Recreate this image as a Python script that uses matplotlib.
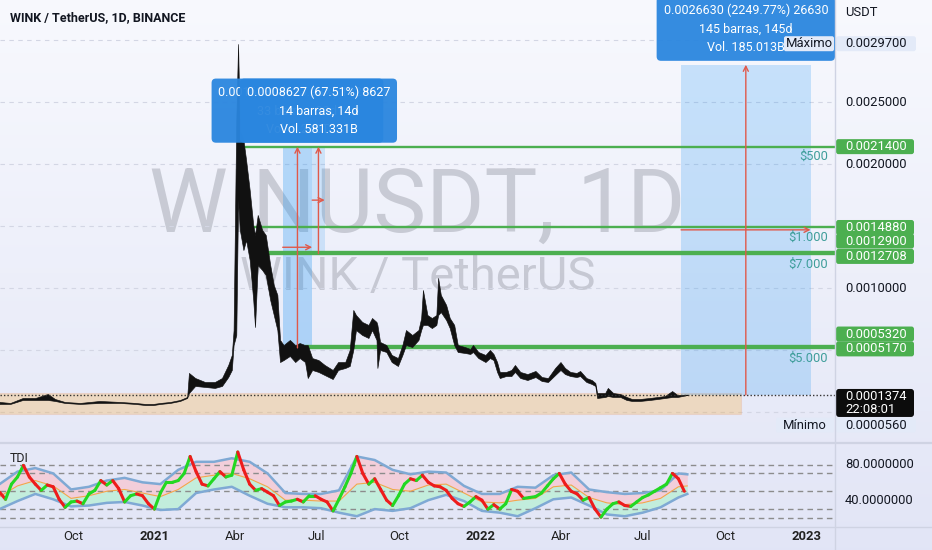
import numpy as np
import pandas as pd
import matplotlib
matplotlib.use("Agg")
import matplotlib.pyplot as plt
import matplotlib.dates as mdates
from matplotlib.collections import LineCollection
from matplotlib.patches import Rectangle, FancyArrowPatch, FancyBboxPatch

plt.rcParams['font.family'] = ['Roboto', 'DejaVu Sans']

# WINUSDT 1D: daily high / low envelope in micro-USDT (1e-6)
price_dates = [
    "2020-07-11", "2020-07-23", "2020-08-06", "2020-08-20", "2020-09-03", "2020-09-11",
    "2020-09-22", "2020-10-09", "2020-10-31", "2020-11-23", "2020-12-10", "2020-12-21",
    "2020-12-30", "2021-01-07", "2021-01-18", "2021-01-29", "2021-02-06", "2021-02-08",
    "2021-02-15", "2021-02-26", "2021-03-09", "2021-03-17", "2021-03-24", "2021-03-28",
    "2021-03-30", "2021-04-02", "2021-04-04", "2021-04-06", "2021-04-10", "2021-04-13",
    "2021-04-17", "2021-04-21", "2021-04-23", "2021-04-26", "2021-05-01", "2021-05-05",
    "2021-05-10", "2021-05-14", "2021-05-18", "2021-05-21", "2021-05-25", "2021-06-01",
    "2021-06-07", "2021-06-12", "2021-06-18", "2021-06-21", "2021-06-26", "2021-07-03",
    "2021-07-10", "2021-07-19", "2021-07-25", "2021-08-02", "2021-08-07", "2021-08-11",
    "2021-08-14", "2021-08-21", "2021-08-28", "2021-09-01", "2021-09-06", "2021-09-07",
    "2021-09-10", "2021-09-17", "2021-09-23", "2021-09-30", "2021-10-05", "2021-10-09",
    "2021-10-16", "2021-10-23", "2021-10-26", "2021-10-28", "2021-11-02", "2021-11-07",
    "2021-11-12", "2021-11-14", "2021-11-17", "2021-11-23", "2021-11-27", "2021-12-02",
    "2021-12-06", "2021-12-14", "2021-12-20", "2021-12-23", "2021-12-29", "2022-01-06",
    "2022-01-11", "2022-01-15", "2022-01-19", "2022-01-22", "2022-01-29", "2022-02-04",
    "2022-02-08", "2022-02-14", "2022-02-22", "2022-03-03", "2022-03-10", "2022-03-17",
    "2022-03-25", "2022-03-31", "2022-04-05", "2022-04-11", "2022-04-18", "2022-04-22",
    "2022-04-29", "2022-05-05", "2022-05-09", "2022-05-11", "2022-05-20", "2022-05-23",
    "2022-05-29", "2022-06-06", "2022-06-13", "2022-06-19", "2022-06-28", "2022-07-09",
    "2022-07-18", "2022-07-26", "2022-08-03", "2022-08-09", "2022-08-20",
]
price_hi = [
    81, 73, 113, 113, 145, 105, 81, 73, 89, 81, 73, 65,
    65, 73, 81, 97, 121, 315, 274, 242, 242, 274, 379, 460,
    661, 2355, 2968, 2274, 2194, 2032, 1790, 1508, 1427, 1589, 1468, 1427,
    1185, 1024, 944, 581, 540, 581, 540, 556, 540, 540, 435, 419,
    379, 339, 403, 403, 500, 823, 782, 726, 702, 758, 726, 702,
    565, 540, 460, 435, 540, 661, 621, 661, 758, 984, 782, 758,
    782, 1081, 944, 863, 758, 702, 540, 524, 508, 540, 484, 460,
    500, 468, 403, 323, 323, 339, 379, 323, 306, 331, 282, 274,
    355, 403, 355, 323, 315, 331, 274, 258, 234, 153, 153, 194,
    153, 145, 121, 105, 105, 113, 121, 129, 169, 137, 140,
]
price_lo = [
    65, 65, 97, 97, 97, 89, 73, 65, 73, 73, 65, 56,
    56, 65, 73, 89, 113, 153, 210, 202, 194, 210, 282, 339,
    540, 621, 1710, 1468, 1306, 1387, 1226, 903, 685, 1185, 1145, 1105,
    903, 782, 661, 403, 419, 452, 403, 435, 403, 274, 339, 323,
    298, 266, 339, 355, 371, 500, 661, 621, 597, 661, 581, 355,
    500, 484, 403, 371, 460, 540, 524, 581, 661, 702, 702, 677,
    702, 782, 806, 742, 677, 540, 484, 476, 468, 484, 435, 403,
    435, 419, 323, 274, 290, 290, 323, 274, 258, 282, 250, 242,
    298, 339, 306, 290, 282, 290, 242, 226, 210, 113, 121, 129,
    121, 121, 97, 89, 89, 97, 105, 113, 121, 121, 137,
]
last_price = 0.0001374
max_price = 0.0029700
min_price = 0.0000560

# green horizontal levels and the day each one starts
levels = [0.0021400, 0.0014880, 0.0012900, 0.0012708, 0.0005320, 0.0005170]
level_start = ["2021-04-06", "2021-04-19", "2021-04-30", "2021-04-30", "2021-06-18", "2021-06-18"]
level_shift = [0, 0, 11, -2, 12, -1]  # px, axis labels pushed apart like TradingView does
notes = [("$500", 0.0021400), ("$1.000", 0.0014880), ("$7.000", 0.0012708), ("$5.000", 0.0005170)]

# support zone (orange box)
zone_start, zone_end = "2020-06-01", "2022-10-19"
zone_lo, zone_hi = -0.000016, 0.000153

# date & price range tools
ranges = [
    dict(start="2021-05-24", bars=33, p0=0.0005170, p1=0.0021400, alpha=0.3,
         label="0.0016230 (313.93%) 16230\n33 barras, 33d\nVol. 1.215T"),
    dict(start="2021-06-26", bars=14, p0=0.0012773, p1=0.0021400, alpha=0.17,
         label="0.0008627 (67.51%) 8627\n14 barras, 14d\nVol. 581.331B"),
    dict(start="2022-08-13", bars=145, p0=0.0001374, p1=0.0028004, alpha=0.22,
         label="0.0026630 (2249.77%) 26630\n145 barras, 145d\nVol. 185.013B"),
]

# TDI: RSI price line (every 160 h) and bands (every 20 days + last day)
tdi_rsi = [
    49, 41, 58, 66, 79, 66, 58, 51, 57, 55, 41, 32, 38, 39, 36, 47, 51, 62, 57, 62,
    53, 38, 45, 47, 45, 36, 30, 48, 60, 60, 62, 70, 89, 72, 58, 56, 64, 72, 66, 68,
    94, 74, 58, 51, 53, 49, 45, 34, 38, 39, 41, 38, 45, 45, 41, 38, 28, 41, 55, 70,
    89, 70, 58, 64, 52, 40, 34, 45, 58, 64, 62, 68, 60, 56, 55, 51, 42, 36, 33, 38,
    44, 40, 30, 35, 30, 36, 52, 50, 42, 43, 44, 48, 56, 64, 70, 58, 50, 47, 40, 43,
    30, 21, 30, 36, 38, 34, 33, 38, 43, 46, 50, 54, 58, 70, 64, 50,
]
tdi_upper = [58, 72, 76, 70, 52, 55, 62, 65, 60, 58, 74, 83, 83, 87, 83, 70, 48, 47, 47, 51,
             89, 85, 74, 69, 72, 71, 56, 47, 47, 55, 54, 68, 71, 52, 49, 47, 48, 51, 70, 69]
tdi_mid = [44, 56, 62, 56, 42, 45, 50, 52, 48, 44, 52, 65, 68, 70, 64, 55, 40, 40, 39, 39,
           58, 60, 52, 50, 57, 58, 48, 38, 37, 40, 42, 55, 57, 43, 37, 35, 37, 42, 55, 56]
tdi_lower = [30, 39, 47, 41, 33, 34, 37, 38, 34, 29, 30, 48, 52, 55, 45, 36, 32, 32, 31, 26,
             22, 30, 28, 31, 40, 46, 39, 28, 26, 22, 31, 41, 43, 34, 24, 22, 26, 32, 43, 47]
tdi_levels = [80, 70, 50, 30, 20]

# ---------------------------------------------------------------- layout
W, H = 932, 550
PANE_R, MAIN_B, TDI_B = 835, 443, 527
PRICE_PER_PX = 0.0005 / 62
ZERO_Y = 412
DAYS_PER_PX = 365 / 326
JAN21_X = 155


def rect(x0, y0, x1, y1):
    return [x0 / W, 1 - y1 / H, (x1 - x0) / W, (y1 - y0) / H]


def ypix(p):
    return ZERO_Y - p / PRICE_PER_PX


def ytdi(v):
    return 464.5 + (80 - v) * 0.892


fig = plt.figure(figsize=(W / 100, H / 100), dpi=100)

bg = fig.add_axes([0, 0, 1, 1], zorder=-5)
grad = np.linspace(0, 1, 256)[:, None]
top, bot = np.array([0.972, 0.976, 0.995]), np.array([0.886, 0.898, 0.965])
bg.imshow(top + (bot - top) * grad[:, :, None], aspect='auto', extent=[0, 1, 0, 1])
bg.axis('off')

ax = fig.add_axes(rect(0, 0, PANE_R, MAIN_B))
tdi = fig.add_axes(rect(0, MAIN_B, PANE_R, TDI_B), sharex=ax)
for a in (ax, tdi):
    a.set_facecolor('none')
    for s in a.spines.values():
        s.set_visible(False)

jan21 = mdates.date2num(pd.Timestamp("2021-01-01"))
ax.set_xlim(jan21 - JAN21_X * DAYS_PER_PX, jan21 + (PANE_R - JAN21_X) * DAYS_PER_PX)
ax.set_ylim((ZERO_Y - MAIN_B) * PRICE_PER_PX, ZERO_Y * PRICE_PER_PX)
ax.set_yticks(np.arange(0, 0.0035, 0.0005))
ax.grid(axis='y', ls=(0, (4, 4)), color='#d3d6e4', lw=0.8)
ax.tick_params(left=False, labelleft=False, bottom=False, labelbottom=False)

# watermark
ax.text(0.5, 1 - 232 / MAIN_B, "WINUSDT, 1D", transform=ax.transAxes, ha='center', va='baseline',
        fontsize=64, color='#8e919c', alpha=0.4, zorder=1)
ax.text(0.5, 1 - 290 / MAIN_B, "WINK / TetherUS", transform=ax.transAxes, ha='center', va='baseline',
        fontsize=34, color='#8e919c', alpha=0.4, zorder=1)

# support zone
z0 = mdates.date2num(pd.Timestamp(zone_start))
z1 = mdates.date2num(pd.Timestamp(zone_end))
ax.add_patch(Rectangle((z0, zone_lo), z1 - z0, zone_hi - zone_lo, fc='#ff9800', alpha=0.22,
                       ec='#e8a080', lw=0.8, zorder=2))

# ranges
red = '#e0594a'
for r in ranges:
    s = mdates.date2num(pd.Timestamp(r["start"]))
    mid = s + r["bars"] / 2
    ax.add_patch(Rectangle((s, r["p0"]), r["bars"], r["p1"] - r["p0"], fc='#2196f3', alpha=r["alpha"],
                           ec='none', zorder=2))
    ax.add_patch(FancyArrowPatch((mid, r["p0"]), (mid, r["p1"]), arrowstyle='->', mutation_scale=9,
                                 color=red, lw=1, shrinkA=0, shrinkB=0, zorder=5))
    pm = (r["p0"] + r["p1"]) / 2
    ax.add_patch(FancyArrowPatch((s, pm), (s + r["bars"], pm), arrowstyle='->', mutation_scale=9,
                                 color=red, lw=1, shrinkA=0, shrinkB=0, zorder=5))

# green levels
for lv, st in zip(levels, level_start):
    ax.hlines(lv, mdates.date2num(pd.Timestamp(st)), ax.get_xlim()[1], color='#4caf50', lw=1.7, zorder=3)

# price
d = pd.to_datetime(price_dates)
ax.fill_between(d, np.array(price_lo) * 1e-6, np.array(price_hi) * 1e-6, color='#111111', lw=0.45, zorder=4)
ax.axhline(last_price, ls=(0, (1, 1.5)), color='#333333', lw=1, zorder=4)

for txt, p in notes:
    ax.annotate(txt, xy=(ax.get_xlim()[1], p), xytext=(-7, -10), textcoords='offset pixels',
                ha='right', va='center', color='#3f9e9b', fontsize=9.3, zorder=6)

for r in ranges:
    s = mdates.date2num(pd.Timestamp(r["start"]))
    ax.annotate(r["label"], xy=(s + r["bars"] / 2, r["p1"]), xytext=(0, 36), textcoords='offset pixels',
                ha='center', va='center', color='white', fontsize=9, linespacing=1.55,
                bbox=dict(boxstyle='round,pad=0.55,rounding_size=0.35', fc='#2a86df', ec='none', alpha=0.95),
                annotation_clip=False, clip_on=True, zorder=8)

# TDI panel
tdi.set_ylim(80 - (TDI_B - 464.5) / 0.892, 80 + (464.5 - MAIN_B) / 0.892)
rsi_d = pd.date_range("2020-07-11", periods=len(tdi_rsi), freq="160h")
band_d = list(pd.date_range("2020-07-11", periods=len(tdi_upper) - 1, freq="20D")) + [pd.Timestamp("2022-08-20")]
tdi.fill_between(band_d, tdi_mid, tdi_upper, color='#f9c4cf', alpha=0.7, lw=0, zorder=1)
tdi.fill_between(band_d, tdi_lower, tdi_mid, color='#b8f0d4', alpha=0.75, lw=0, zorder=1)
tdi.plot(band_d, tdi_mid, color='#f0a84a', lw=0.8, zorder=2)
tdi.plot(band_d, tdi_upper, color='#7fa9d4', lw=1.8, zorder=2)
tdi.plot(band_d, tdi_lower, color='#7fa9d4', lw=1.8, zorder=2)
for lv in tdi_levels:
    tdi.axhline(lv, ls=(0, (4, 3)), color='#8c8c8c', lw=1, zorder=1.5)
xs = mdates.date2num(rsi_d)
pts = np.column_stack([xs, tdi_rsi])
segs = np.stack([pts[:-1], pts[1:]], axis=1)
cols = ['#22d822' if b >= a else '#ee1c1c' for a, b in zip(tdi_rsi[:-1], tdi_rsi[1:])]
tdi.add_collection(LineCollection(segs, colors=cols, lw=2.2, zorder=3, capstyle='round'))
tdi.text(10 / PANE_R, 1 - (458 - MAIN_B) / (TDI_B - MAIN_B), "TDI", transform=tdi.transAxes, ha='left',
         va='center', fontsize=9, color='#222222')

ticks = ["2020-10-01", "2021-01-01", "2021-04-01", "2021-07-01", "2021-10-01",
         "2022-01-01", "2022-04-01", "2022-07-01", "2022-10-01", "2023-01-01"]
tick_lbl = ["Oct", "2021", "Abr", "Jul", "Oct", "2022", "Abr", "Jul", "Oct", "2023"]
tdi.set_xticks(mdates.date2num(pd.to_datetime(ticks)))
tdi.set_xticklabels(tick_lbl, fontsize=9.4, color='#222222')
for t in tdi.get_xticklabels():
    if t.get_text().isdigit():
        t.set_fontweight('bold')
tdi.tick_params(axis='x', length=0, pad=2.5)
tdi.tick_params(axis='y', left=False, labelleft=False)

# overlay in pixels: price scale, separators, labels
ov = fig.add_axes([0, 0, 1, 1], zorder=10)
ov.set_xlim(0, W)
ov.set_ylim(H, 0)
ov.axis('off')
ov.plot([PANE_R, PANE_R], [0, H], color='#cfd3e3', lw=1)
ov.plot([0, W], [MAIN_B, MAIN_B], color='#cfd3e3', lw=1.6)
ov.plot([0, W], [TDI_B, TDI_B], color='#cfd3e3', lw=1)

ov.text(10, 18, "WINK / TetherUS, 1D, BINANCE", fontsize=9, fontweight='bold', color='#131722', va='center')
ov.text(845, 12, "USDT", fontsize=9.4, color='#131722', va='center')


def scale_label(y, txt, fc=None, tc='#131722', w=80, h=15):
    if fc is not None:
        ov.add_patch(FancyBboxPatch((PANE_R + 1, y - h / 2), w, h, boxstyle="round,pad=0,rounding_size=2.5",
                                    fc=fc, ec='none'))
    ov.text(845, y, txt, fontsize=9.4, color=tc, va='center', ha='left')


for p in [0.0025, 0.0020, 0.0010]:
    scale_label(ypix(p), f"{p:.7f}")
for lv, sh in zip(levels, level_shift):
    scale_label(ypix(lv) - sh, f"{lv:.7f}", fc='#4caf50', tc='white', w=78)

# max / min
ym = ypix(max_price)
ov.add_patch(FancyBboxPatch((784, ym - 7.5), 50, 15, boxstyle="round,pad=0,rounding_size=2", fc='#e3eaf8', ec='none'))
ov.text(809, ym, "Máximo", fontsize=9.4, color='#131722', va='center', ha='center')
scale_label(ym, f"{max_price:.7f}", fc='#e3eaf8', w=80)
yn = ypix(min_price) + 20
ov.add_patch(FancyBboxPatch((776, yn - 7.5), 58, 15, boxstyle="round,pad=0,rounding_size=2", fc='#e3eaf8', ec='none'))
ov.text(805, yn, "Mínimo", fontsize=9.4, color='#131722', va='center', ha='center')
scale_label(yn, f"{min_price:.7f}", fc='#e3eaf8', w=80)

# last price
yl = ypix(last_price) + 2
ov.add_patch(FancyBboxPatch((PANE_R + 1, yl - 8), 78, 28, boxstyle="round,pad=0,rounding_size=3", fc='#0c0c0c', ec='none'))
ov.text(845, yl, f"{last_price:.7f}", fontsize=9.4, color='white', va='center')
ov.text(845, yl + 13, "22:08:01", fontsize=9.4, color='white', va='center')

for v in [80, 40]:
    ov.text(845, ytdi(v), f"{v:.7f}", fontsize=9.4, color='#131722', va='center')

fig.savefig("out.png", dpi=100)
